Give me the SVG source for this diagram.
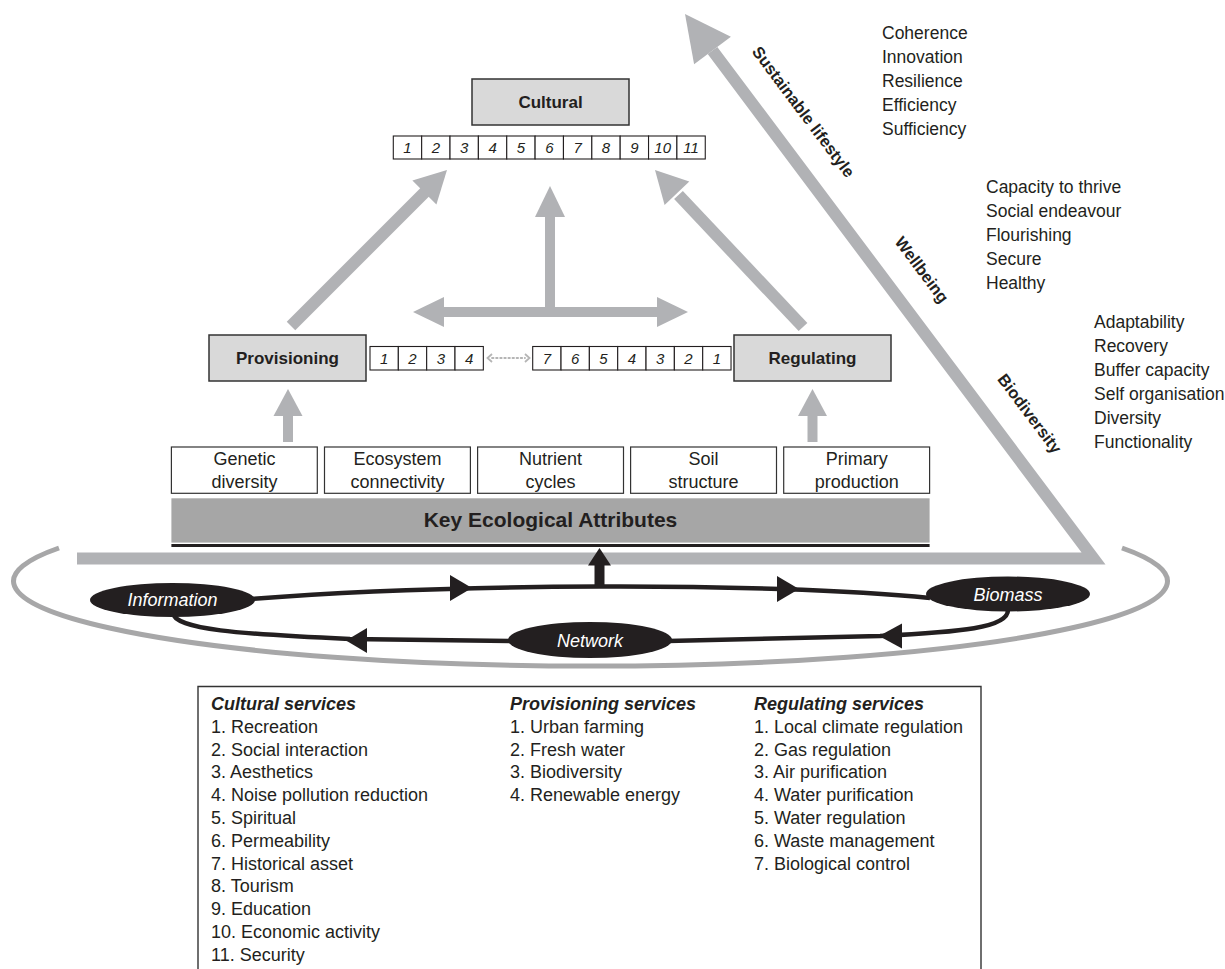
<svg xmlns="http://www.w3.org/2000/svg" width="1225" height="969" viewBox="0 0 1225 969">
<style>
  text { font-family: "Liberation Sans", Arial, sans-serif; fill: #231f20; }
  .box { fill: #d9d9d9; stroke: #333; stroke-width: 1.5; }
  .cell { fill: #fff; stroke: #231f20; stroke-width: 1.1; }
  .attr { fill: #fff; stroke: #333; stroke-width: 1.2; }
  .title { font-size: 17px; font-weight: bold; text-anchor: middle; }
  .num { font-size: 15px; font-style: italic; text-anchor: middle; }
  .atxt { font-size: 18px; text-anchor: middle; }
  .list { font-size: 17.5px; }
  .side { font-size: 16.5px; font-weight: bold; text-anchor: middle; }
  .leg { font-size: 18px; }
  .legh { font-size: 18px; font-weight: bold; font-style: italic; }
  .gshaft { stroke: #b1b2b5; fill: none; }
  .ghead { fill: #b1b2b5; }
  .blk { stroke: #231f20; stroke-width: 4.5; fill: none; }
  .bhead { fill: #231f20; }
  .oval { fill: #231f20; }
  .otxt { font-size: 18px; font-style: italic; fill: #fff; text-anchor: middle; }
</style>

<!-- Outer gray ring -->
<g id="ring">
  <path d="M59,548 A577,85 0 1 0 1122,548" fill="none" stroke="#a7a7a8" stroke-width="5"/>
</g>

<!-- Triangle (sustainability arrow) -->
<g id="triangle">
  <polyline points="77,558.5 1093.5,558.5 712.5,50.5" fill="none" stroke="#b1b2b5" stroke-width="12" stroke-linejoin="miter" stroke-miterlimit="10"/>
  <polygon points="685,14 730.9,36.7 694.1,64.3" fill="#b1b2b5"/>
  <text class="side" transform="translate(803.5,111.8) rotate(53.13)" dy="0.35em">Sustainable lifestyle</text>
  <text class="side" transform="translate(921.9,269.7) rotate(53.13)" dy="0.35em">Wellbeing</text>
  <text class="side" transform="translate(1029.8,413.5) rotate(53.13)" dy="0.35em">Biodiversity</text>
</g>

<!-- Side lists -->
<g id="list-lifestyle" class="list">
  <text class="list" x="882" y="39">Coherence</text>
  <text class="list" x="882" y="63">Innovation</text>
  <text class="list" x="882" y="87">Resilience</text>
  <text class="list" x="882" y="111">Efficiency</text>
  <text class="list" x="882" y="135">Sufficiency</text>
</g>
<g id="list-wellbeing">
  <text class="list" x="986" y="193">Capacity to thrive</text>
  <text class="list" x="986" y="217">Social endeavour</text>
  <text class="list" x="986" y="241">Flourishing</text>
  <text class="list" x="986" y="265">Secure</text>
  <text class="list" x="986" y="289">Healthy</text>
</g>
<g id="list-biodiversity">
  <text class="list" x="1094" y="328">Adaptability</text>
  <text class="list" x="1094" y="352">Recovery</text>
  <text class="list" x="1094" y="376">Buffer capacity</text>
  <text class="list" x="1094" y="400">Self organisation</text>
  <text class="list" x="1094" y="424">Diversity</text>
  <text class="list" x="1094" y="448">Functionality</text>
</g>

<!-- Connectors -->
<g id="connectors">
  <!-- Provisioning to Cultural -->
  <line class="gshaft" x1="291" y1="326" x2="426" y2="191" stroke-width="12"/>
  <polygon class="ghead" points="447,170 436.4,204.6 412.4,180.6"/>
  <!-- Regulating to Cultural -->
  <line class="gshaft" x1="803" y1="327" x2="678.5" y2="195" stroke-width="12"/>
  <polygon class="ghead" points="655,170 689.3,181.6 664.6,205"/>
  <!-- centre vertical -->
  <line class="gshaft" x1="550" y1="312" x2="550" y2="215" stroke-width="10"/>
  <polygon class="ghead" points="550,186 565,217 535,217"/>
  <!-- horizontal double -->
  <line class="gshaft" x1="443" y1="312" x2="658" y2="312" stroke-width="10"/>
  <polygon class="ghead" points="413,312 444,297 444,327"/>
  <polygon class="ghead" points="688,312 657,297 657,327"/>
  <!-- attributes to Provisioning / Regulating -->
  <line class="gshaft" x1="288" y1="442" x2="288" y2="414" stroke-width="10"/>
  <polygon class="ghead" points="288,389 302.5,416 273.5,416"/>
  <line class="gshaft" x1="812.5" y1="442" x2="812.5" y2="414" stroke-width="10"/>
  <polygon class="ghead" points="812.5,389 827,416 798,416"/>
  <!-- dotted link between cell rows -->
  <line x1="492" y1="358" x2="525" y2="358" stroke="#b5b5b5" stroke-width="1.8" stroke-dasharray="1.5 2.6" stroke-linecap="round"/>
  <polyline points="492,354 487.5,358 492,362" fill="none" stroke="#b5b5b5" stroke-width="1.8"/>
  <polyline points="525,354 529.5,358 525,362" fill="none" stroke="#b5b5b5" stroke-width="1.8"/>
  <!-- black loop -->
  <path class="blk" d="M250,599 C350,591 480,587 599,586.5 C720,586 850,590 930,598"/>
  <polygon class="bhead" points="472,588 450,575 450,601"/>
  <polygon class="bhead" points="799,589 777,576 777,602"/>
  <path class="blk" d="M172.5,612 C174,630 240,634 350,639 L512,641"/>
  <polygon class="bhead" points="346,640.5 367,628 367,653"/>
  <path class="blk" d="M668,641 L880,636 C960,632 1008,628 1008,610"/>
  <polygon class="bhead" points="879,636 902,623.5 902,648.5"/>
  <!-- black arrow up into attributes -->
  <line x1="599.5" y1="588" x2="599.5" y2="563" stroke="#231f20" stroke-width="10"/>
  <polygon class="bhead" points="599.5,548 611,565.5 588,565.5"/>
</g>

<!-- Cultural node -->
<g id="cultural">
  <rect class="box" x="472" y="79" width="157" height="46"/>
  <text class="title" x="550.5" y="108">Cultural</text>
</g>
<g id="cultural-cells">
  <rect class="cell" x="393.3" y="136" width="28.36" height="23"/>
  <rect class="cell" x="421.66" y="136" width="28.36" height="23"/>
  <rect class="cell" x="450.02" y="136" width="28.36" height="23"/>
  <rect class="cell" x="478.38" y="136" width="28.36" height="23"/>
  <rect class="cell" x="506.74" y="136" width="28.36" height="23"/>
  <rect class="cell" x="535.1" y="136" width="28.36" height="23"/>
  <rect class="cell" x="563.46" y="136" width="28.36" height="23"/>
  <rect class="cell" x="591.82" y="136" width="28.36" height="23"/>
  <rect class="cell" x="620.18" y="136" width="28.36" height="23"/>
  <rect class="cell" x="648.54" y="136" width="28.36" height="23"/>
  <rect class="cell" x="676.9" y="136" width="28.36" height="23"/>
  <text class="num" x="407.5" y="153">1</text>
  <text class="num" x="435.8" y="153">2</text>
  <text class="num" x="464.2" y="153">3</text>
  <text class="num" x="492.6" y="153">4</text>
  <text class="num" x="520.9" y="153">5</text>
  <text class="num" x="549.3" y="153">6</text>
  <text class="num" x="577.6" y="153">7</text>
  <text class="num" x="606" y="153">8</text>
  <text class="num" x="634.4" y="153">9</text>
  <text class="num" x="662.7" y="153">10</text>
  <text class="num" x="691.1" y="153">11</text>
</g>

<!-- Provisioning node -->
<g id="provisioning">
  <rect class="box" x="209" y="335" width="157" height="46"/>
  <text class="title" x="287.5" y="364">Provisioning</text>
</g>
<g id="provisioning-cells">
  <rect class="cell" x="370" y="346.5" width="28.33" height="23.5"/>
  <rect class="cell" x="398.33" y="346.5" width="28.33" height="23.5"/>
  <rect class="cell" x="426.67" y="346.5" width="28.33" height="23.5"/>
  <rect class="cell" x="455" y="346.5" width="28.33" height="23.5"/>
  <text class="num" x="384.2" y="363.5">1</text>
  <text class="num" x="412.5" y="363.5">2</text>
  <text class="num" x="440.8" y="363.5">3</text>
  <text class="num" x="469.2" y="363.5">4</text>
</g>

<!-- Regulating node -->
<g id="regulating">
  <rect class="box" x="734" y="335" width="157" height="46"/>
  <text class="title" x="812.5" y="364">Regulating</text>
</g>
<g id="regulating-cells">
  <rect class="cell" x="532.7" y="346.5" width="28.33" height="23.5"/>
  <rect class="cell" x="561.03" y="346.5" width="28.33" height="23.5"/>
  <rect class="cell" x="589.37" y="346.5" width="28.33" height="23.5"/>
  <rect class="cell" x="617.7" y="346.5" width="28.33" height="23.5"/>
  <rect class="cell" x="646.03" y="346.5" width="28.33" height="23.5"/>
  <rect class="cell" x="674.37" y="346.5" width="28.33" height="23.5"/>
  <rect class="cell" x="702.7" y="346.5" width="28.33" height="23.5"/>
  <text class="num" x="546.9" y="363.5">7</text>
  <text class="num" x="575.2" y="363.5">6</text>
  <text class="num" x="603.5" y="363.5">5</text>
  <text class="num" x="631.9" y="363.5">4</text>
  <text class="num" x="660.2" y="363.5">3</text>
  <text class="num" x="688.5" y="363.5">2</text>
  <text class="num" x="716.9" y="363.5">1</text>
</g>

<!-- Attribute boxes -->
<g id="attr-genetic">
  <rect class="attr" x="171.4" y="447" width="145.9" height="46.3"/>
  <text class="atxt" x="244.4" y="464.5">Genetic</text>
  <text class="atxt" x="244.4" y="487.5">diversity</text>
</g>
<g id="attr-connectivity">
  <rect class="attr" x="324.5" y="447" width="145.9" height="46.3"/>
  <text class="atxt" x="397.5" y="464.5">Ecosystem</text>
  <text class="atxt" x="397.5" y="487.5">connectivity</text>
</g>
<g id="attr-nutrient">
  <rect class="attr" x="477.6" y="447" width="145.9" height="46.3"/>
  <text class="atxt" x="550.6" y="464.5">Nutrient</text>
  <text class="atxt" x="550.6" y="487.5">cycles</text>
</g>
<g id="attr-soil">
  <rect class="attr" x="630.6" y="447" width="145.9" height="46.3"/>
  <text class="atxt" x="703.6" y="464.5">Soil</text>
  <text class="atxt" x="703.6" y="487.5">structure</text>
</g>
<g id="attr-primary">
  <rect class="attr" x="783.7" y="447" width="145.9" height="46.3"/>
  <text class="atxt" x="856.7" y="464.5">Primary</text>
  <text class="atxt" x="856.7" y="487.5">production</text>
</g>

<!-- Key Ecological Attributes -->
<g id="key-attributes">
  <rect x="171.4" y="498.3" width="758.2" height="44.3" fill="#a6a6a6"/>
  <text x="550.5" y="527" font-size="21" font-weight="bold" text-anchor="middle">Key Ecological Attributes</text>
  <line x1="171.4" y1="545.5" x2="929.6" y2="545.5" stroke="#231f20" stroke-width="3"/>
</g>

<!-- Loop ovals -->
<g id="information">
  <ellipse class="oval" cx="172.5" cy="600" rx="82.5" ry="17"/>
  <text class="otxt" x="172.5" y="606">Information</text>
</g>
<g id="biomass">
  <ellipse class="oval" cx="1008" cy="594" rx="82" ry="17.5"/>
  <text class="otxt" x="1008" y="600.5">Biomass</text>
</g>
<g id="network">
  <ellipse class="oval" cx="590" cy="640" rx="82" ry="18"/>
  <text class="otxt" x="590" y="646.5">Network</text>
</g>

<!-- Legend -->
<g id="legend">
  <polyline points="198,969 198,686.5 981,686.5 981,969" fill="none" stroke="#333" stroke-width="1.4"/>
  <text class="legh" x="211" y="710">Cultural services</text>
  <text class="leg" x="211" y="732.8">1. Recreation</text>
  <text class="leg" x="211" y="755.6">2. Social interaction</text>
  <text class="leg" x="211" y="778.4">3. Aesthetics</text>
  <text class="leg" x="211" y="801.2">4. Noise pollution reduction</text>
  <text class="leg" x="211" y="824">5. Spiritual</text>
  <text class="leg" x="211" y="846.8">6. Permeability</text>
  <text class="leg" x="211" y="869.6">7. Historical asset</text>
  <text class="leg" x="211" y="892.4">8. Tourism</text>
  <text class="leg" x="211" y="915.2">9. Education</text>
  <text class="leg" x="211" y="938">10. Economic activity</text>
  <text class="leg" x="211" y="960.8">11. Security</text>

  <text class="legh" x="510" y="710">Provisioning services</text>
  <text class="leg" x="510" y="732.8">1. Urban farming</text>
  <text class="leg" x="510" y="755.6">2. Fresh water</text>
  <text class="leg" x="510" y="778.4">3. Biodiversity</text>
  <text class="leg" x="510" y="801.2">4. Renewable energy</text>

  <text class="legh" x="754" y="710">Regulating services</text>
  <text class="leg" x="754" y="732.8">1. Local climate regulation</text>
  <text class="leg" x="754" y="755.6">2. Gas regulation</text>
  <text class="leg" x="754" y="778.4">3. Air purification</text>
  <text class="leg" x="754" y="801.2">4. Water purification</text>
  <text class="leg" x="754" y="824">5. Water regulation</text>
  <text class="leg" x="754" y="846.8">6. Waste management</text>
  <text class="leg" x="754" y="869.6">7. Biological control</text>
</g>
</svg>
